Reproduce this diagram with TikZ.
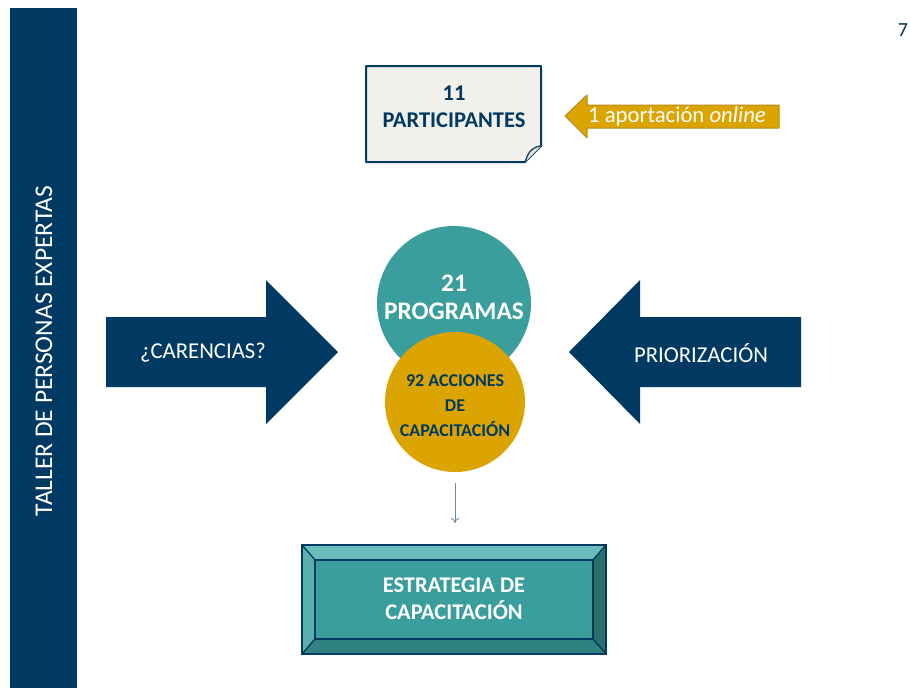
\documentclass[tikz,border=0pt]{standalone}
\usepackage{fontspec}
\setmainfont{Carlito}
\usetikzlibrary{arrows.meta}
\definecolor{navy}{HTML}{003A63}
\definecolor{teal1}{HTML}{3A9E9C}
\definecolor{teallight}{HTML}{6BBDBB}
\definecolor{tealleft}{HTML}{5AB0AE}
\definecolor{tealdark}{HTML}{2B6F6D}
\definecolor{tealbot}{HTML}{2F8280}
\definecolor{gold}{HTML}{DCA400}
\definecolor{golddark}{HTML}{B88A10}
\definecolor{paper}{HTML}{F2F0EA}
\definecolor{arrowgray}{HTML}{6A8BA3}
\begin{document}
\begin{tikzpicture}[x=1pt,y=-1pt,
  whitetxt/.style={text=white,font=\fontsize{22.7}{26}\selectfont,align=center,inner sep=0},
  navytxt/.style={text=navy,font=\bfseries\fontsize{22.5}{27}\selectfont,align=center,inner sep=0},
  bevelside/.style={draw=navy,line width=1.2pt,line join=round}]
\useasboundingbox (0,0) rectangle (910,688);
\fill[white] (0,0) rectangle (910,688);
% left bar
\fill[navy] (10,8) rectangle (77,688);
\node[whitetxt,rotate=90,font=\fontsize{25.5}{28}\selectfont] (title) at (44,351) {TALLER DE PERSONAS EXPERTAS};
% page number
\node[text=navy!80!black,font=\fontsize{20}{22}\selectfont,inner sep=0] (page) at (903,30) {7};
% participants sheet
\draw[navy,line width=2pt,fill=paper,line join=round] (366,66) -- (541,66) -- (541,146) -- (525,162) -- (366,162) -- cycle;
\draw[navy,line width=1.2pt,fill=paper!85!gray] (541,146) .. controls (533,147) and (529,150) .. (525,162);
\node[navytxt] (part) at (454,107) {11\\PARTICIPANTES};
% gold arrow
\draw[golddark,line width=1pt,fill=gold,line join=round] (565,116) -- (587,95) -- (587,105) -- (779,105) -- (779,128) -- (587,128) -- (587,138) -- cycle;
\node[whitetxt] (online) at (677,116.5) {1 aportación \textit{online}};
% navy arrows
\fill[navy] (106,317) -- (266,317) -- (266,280) -- (338,352) -- (266,424) -- (266,387) -- (106,387) -- cycle;
\node[whitetxt] (carencias) at (203,353) {¿CARENCIAS?};
\fill[navy] (801,317) -- (640,317) -- (640,280) -- (569,352) -- (640,424) -- (640,387) -- (801,387) -- cycle;
\node[whitetxt] (prior) at (701,353) {PRIORIZACIÓN};
% circles
\node[circle,fill=teal1,minimum size=154,inner sep=0] (prog) at (454,303) {};
\node[text=white,font=\bfseries\fontsize{25.3}{28}\selectfont,align=center,inner sep=0] (progtxt) at (454,297) {21\\PROGRAMAS};
\node[circle,fill=gold,minimum size=140,inner sep=0] (acc) at (455,402) {};
\node[text=navy,font=\bfseries\fontsize{18}{25}\selectfont,align=center,inner sep=0] (acctxt) at (455,406) {92 ACCIONES\\DE\\CAPACITACIÓN};
% down arrow
\draw[arrowgray,line width=0.9pt,-{To[length=5pt,width=8pt]},shorten <=11pt,shorten >=22pt] (acc.south) -- (455,545) coordinate (boxtop);
% bevel box
\fill[teal1] (302,545) rectangle (606,654);
\draw[bevelside,fill=teallight] (302,545) -- (606,545) -- (593,560) -- (315,560) -- cycle;
\draw[bevelside,fill=tealleft] (302,545) -- (315,560) -- (315,639) -- (302,654) -- cycle;
\draw[bevelside,fill=tealdark] (606,545) -- (593,560) -- (593,639) -- (606,654) -- cycle;
\draw[bevelside,fill=tealbot] (302,654) -- (315,639) -- (593,639) -- (606,654) -- cycle;
\draw[navy,line width=1.2pt,fill=teal1] (315,560) rectangle (593,639);
\draw[navy,line width=2pt] (302,545) rectangle (606,654);
\node[text=white,font=\bfseries\fontsize{22.4}{27}\selectfont,align=center,inner sep=0] (estr) at (454,599) {ESTRATEGIA DE\\CAPACITACIÓN};
\end{tikzpicture}
\end{document}
